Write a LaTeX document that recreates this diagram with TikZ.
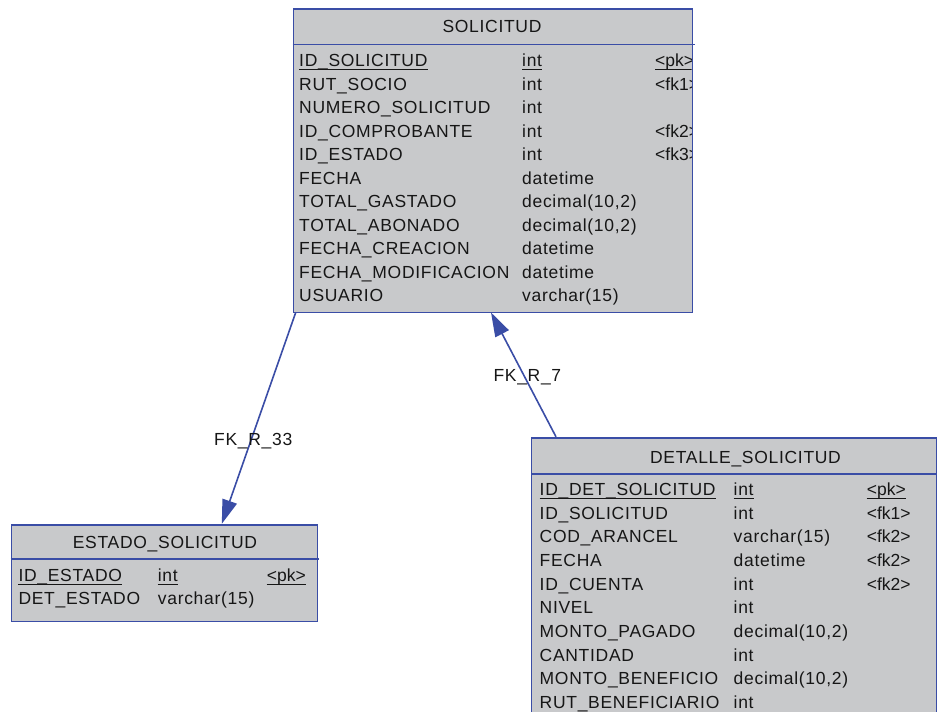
\documentclass[tikz,border=0pt]{standalone}
\usepackage{fontspec}
\setmainfont{Liberation Sans}[LetterSpace=4]
\newfontfamily\keyfont{Liberation Sans}
\usetikzlibrary{arrows.meta}
\definecolor{fillc}{HTML}{C8C9CB}
\definecolor{bordc}{HTML}{3A4DA6}
\definecolor{txtc}{HTML}{161616}
\newcommand\rowfont{\fontsize{17.5}{20}\selectfont}
\tikzset{
  tbl/.style={draw=bordc, fill=fillc, line width=1.4pt, inner sep=0pt, anchor=north west},
  divider/.style={draw=bordc, line width=1.4pt},
  txt/.style={anchor=base west, inner sep=0pt, text=txtc, font=\rowfont},
  keytxt/.style={anchor=base west, inner sep=0pt, text=txtc, font=\keyfont\rowfont},
  ttl/.style={anchor=base, inner sep=0pt, text=txtc, font=\rowfont},
  uline/.style={draw=txtc, line width=1pt},
  fk/.style={draw=bordc, line width=1.6pt, -{Triangle[length=24pt,width=15pt]}},
  lbl/.style={anchor=base west, inner sep=0pt, text=txtc, font=\rowfont},
}
\begin{document}
\begin{tikzpicture}[x=1pt,y=-1pt]
\useasboundingbox (0,0) rectangle (937,712);
\clip (0,0) rectangle (937,712);

% ---------- SOLICITUD ----------
\node[tbl, minimum width=399.5pt, minimum height=303.5pt] (sol) at (292.5,8.3) {};
\draw[divider] (292.5,44.3) -- (695,44.3);
\node[ttl] (solT) at (492,32.7) {SOLICITUD};
\begin{scope}
\clip (292.5,8.3) rectangle (691.6,311.8);
\foreach \n/\a/\b/\c [count=\i from 0] in {
  ID\_SOLICITUD/int/{<pk>}/a,
  RUT\_SOCIO/int/{<fk1>}/b,
  NUMERO\_SOLICITUD/int/{}/c,
  ID\_COMPROBANTE/int/{<fk2>}/d,
  ID\_ESTADO/int/{<fk3>}/e,
  FECHA/datetime/{}/f,
  TOTAL\_GASTADO/decimal(10{,}2)/{}/g,
  TOTAL\_ABONADO/decimal(10{,}2)/{}/h,
  FECHA\_CREACION/datetime/{}/i,
  FECHA\_MODIFICACION/datetime/{}/j,
  USUARIO/varchar(15)/{}/k}{
  \node[txt] (sn\c) at (299,66.7+23.5*\i) {\n};
  \node[txt] (st\c) at (522,66.7+23.5*\i) {\a};
  \node[keytxt] (sk\c) at (655,66.7+23.5*\i) {\b};
}
\draw[uline] ([yshift=-2.6pt]sna.base west) -- ([yshift=-2.6pt]sna.base east);
\draw[uline] ([yshift=-2.6pt]sta.base west) -- ([yshift=-2.6pt]sta.base east);
\draw[uline] ([yshift=-2.6pt]ska.base west) -- ([yshift=-2.6pt]ska.base east);
\end{scope}

% ---------- ESTADO_SOLICITUD ----------
\node[tbl, minimum width=306pt, minimum height=96.4pt] (est) at (10.7,524.3) {};
\draw[divider] (10.7,559) -- (319,559);
\node[ttl] (estT) at (165,548.3) {ESTADO\_SOLICITUD};
\node[txt] (en1) at (18.3,581.7) {ID\_ESTADO};
\node[txt] (et1) at (157.7,581.7) {int};
\node[keytxt] (ek1) at (266.7,581.7) {<pk>};
\node[txt] (en2) at (18.3,604.3) {DET\_ESTADO};
\node[txt] (et2) at (157.7,604.3) {varchar(15)};
\draw[uline] ([yshift=-2.6pt]en1.base west) -- ([yshift=-2.6pt]en1.base east);
\draw[uline] ([yshift=-2.6pt]et1.base west) -- ([yshift=-2.6pt]et1.base east);
\draw[uline] ([yshift=-2.6pt]ek1.base west) -- ([yshift=-2.6pt]ek1.base east);

% ---------- DETALLE_SOLICITUD ----------
\node[tbl, minimum width=404.7pt, minimum height=300pt] (det) at (531,437.3) {};
\draw[divider] (531,474) -- (937,474);
\node[ttl] (detT) at (745.5,463.3) {DETALLE\_SOLICITUD};
\foreach \n/\a/\b/\c [count=\i from 0] in {
  ID\_DET\_SOLICITUD/int/{<pk>}/a,
  ID\_SOLICITUD/int/{<fk1>}/b,
  COD\_ARANCEL/varchar(15)/{<fk2>}/c,
  FECHA/datetime/{<fk2>}/d,
  ID\_CUENTA/int/{<fk2>}/e,
  NIVEL/int/{}/f,
  MONTO\_PAGADO/decimal(10{,}2)/{}/g,
  CANTIDAD/int/{}/h,
  MONTO\_BENEFICIO/decimal(10{,}2)/{}/i,
  RUT\_BENEFICIARIO/int/{}/j}{
  \node[txt] (dn\c) at (539.5,495.7+23.62*\i) {\n};
  \node[txt] (dt\c) at (733.5,495.7+23.62*\i) {\a};
  \node[keytxt] (dk\c) at (866.7,495.7+23.62*\i) {\b};
}
\draw[uline] ([yshift=-2.6pt]dna.base west) -- ([yshift=-2.6pt]dna.base east);
\draw[uline] ([yshift=-2.6pt]dta.base west) -- ([yshift=-2.6pt]dta.base east);
\draw[uline] ([yshift=-2.6pt]dka.base west) -- ([yshift=-2.6pt]dka.base east);

% ---------- connectors ----------
\coordinate (s33) at (295.7,312.5);
\coordinate (e33) at (221.8,523.8);
\draw[fk] (s33) -- (e33);
\node[lbl] (l33) at (214,445) {FK\_R\_33};

\coordinate (d7) at (556,436.8);
\coordinate (s7) at (491,312.5);
\draw[fk] (d7) -- (s7);
\node[lbl] (l7) at (493.3,381) {FK\_R\_7};
\end{tikzpicture}
\end{document}
